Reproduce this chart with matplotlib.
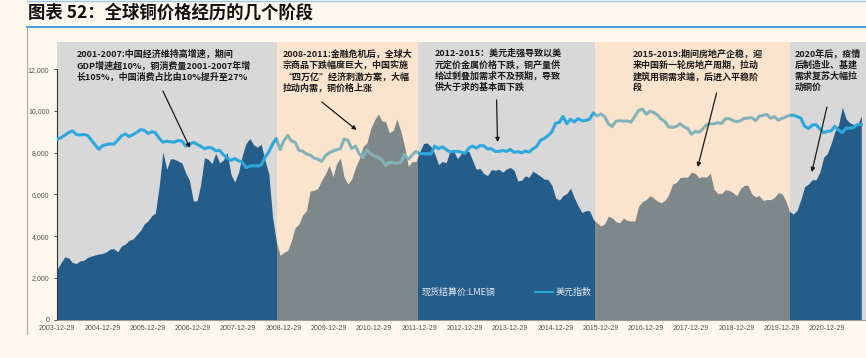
import pandas as pd
import matplotlib
matplotlib.use('Agg')
import matplotlib.pyplot as plt
import matplotlib.dates as mdates
from matplotlib.lines import Line2D
from matplotlib.patches import Patch

plt.rcParams['font.family'] = ['Noto Sans CJK SC', 'DejaVu Sans']

title = '图表 52：全球铜价格经历的几个阶段'

# LME copper cash settlement, monthly, USD/t (2004-01 .. 2021-10)
copper = [
    2423, 2737, 3003, 2949, 2732, 2688, 2810, 2841, 2981, 3042, 3099, 3141,
    3170, 3252, 3379, 3394, 3249, 3524, 3614, 3797, 3857, 4059, 4269, 4577,
    4734, 4982, 5103, 6387, 8046, 7197, 7712, 7694, 7601, 7500, 7029, 6675,
    5676, 5699, 6452, 7766, 7683, 7475, 7972, 7510, 7650, 8008, 6966, 6588,
    7061, 7888, 8439, 8685, 8383, 8260, 8414, 7634, 6990, 4926, 3717, 3072,
    3221, 3315, 3750, 4407, 4569, 5014, 5216, 6165, 6196, 6288, 6676, 6982,
    7386, 6848, 7463, 7745, 6838, 6499, 6735, 7284, 7709, 8292, 8470, 9147,
    9556, 9868, 9530, 9494, 8960, 9067, 9619, 9040, 8300, 7350, 7581, 7566,
    8040, 8441, 8470, 8289, 7955, 7423, 7584, 7515, 8088, 8062, 7711, 7966,
    8047, 8061, 7646, 7203, 7249, 7000, 6907, 7186, 7159, 7203, 7071, 7215,
    7291, 7149, 6650, 6674, 6891, 6821, 7113, 6998, 6872, 6737, 6713, 6446,
    5831, 5729, 5940, 6042, 6295, 5833, 5457, 5127, 5217, 5216, 4800, 4639,
    4472, 4599, 4954, 4873, 4695, 4642, 4864, 4751, 4722, 4731, 5450, 5660,
    5755, 5941, 5825, 5684, 5600, 5720, 5985, 6485, 6578, 6808, 6827, 6834,
    7066, 7007, 6800, 6851, 6825, 7018, 6250, 6040, 6050, 6220, 6195, 6087,
    5939, 6288, 6439, 6439, 6029, 5878, 5941, 5709, 5760, 5744, 5860, 6077,
    6031, 5687, 5183, 5058, 5239, 5755, 6372, 6497, 6705, 6703, 7064, 7772,
    7971, 8461, 9005, 9336, 10184, 9612, 9433, 9357, 9323, 9778,
]

# US dollar index, monthly
dxy = [
    86.5, 87.4, 88.6, 90.0, 90.9, 89.0, 88.7, 89.0, 88.5, 86.0, 83.5, 81.3,
    83.3, 83.7, 84.1, 84.0, 86.0, 88.3, 89.3, 87.9, 88.9, 90.0, 91.5, 91.2,
    89.5, 90.4, 89.9, 87.0, 85.0, 85.5, 85.2, 85.0, 85.9, 85.6, 83.0, 83.7,
    84.9, 83.9, 82.9, 81.6, 82.2, 82.0, 80.6, 80.7, 78.5, 76.8, 75.5, 76.5,
    75.3, 74.6, 71.8, 72.5, 72.8, 72.6, 73.1, 77.1, 80.0, 84.0, 86.9, 81.2,
    85.8, 88.5, 85.6, 85.0, 80.8, 80.3, 78.9, 78.3, 76.7, 76.2, 75.0, 77.9,
    79.5, 80.4, 81.1, 81.6, 86.6, 86.0, 81.7, 82.9, 78.9, 77.0, 81.0, 79.0,
    77.8, 77.0, 75.9, 73.0, 74.6, 74.3, 74.0, 74.5, 78.6, 76.1, 78.3, 80.2,
    79.0, 79.0, 79.0, 78.9, 83.0, 81.6, 82.6, 81.2, 79.9, 80.2, 80.2, 79.8,
    79.2, 82.0, 83.0, 81.9, 83.2, 83.1, 81.5, 81.6, 80.2, 80.2, 80.7, 80.2,
    81.2, 79.7, 80.1, 79.5, 80.4, 79.8, 81.5, 82.8, 86.0, 86.9, 88.4, 90.3,
    94.8, 95.3, 98.4, 94.6, 96.9, 95.5, 97.3, 96.1, 96.3, 96.9, 100.2, 98.6,
    99.6, 98.2, 94.6, 93.1, 95.9, 96.1, 95.9, 96.0, 95.4, 98.4, 101.5, 102.2,
    99.5, 101.1, 100.4, 99.1, 97.0, 95.6, 92.9, 92.7, 93.1, 94.6, 93.0, 92.1,
    89.1, 90.6, 90.1, 91.8, 94.0, 94.5, 94.5, 95.1, 94.8, 97.1, 97.3, 96.2,
    95.6, 96.2, 97.3, 97.5, 97.8, 96.1, 98.5, 98.9, 99.4, 97.4, 98.3, 96.4,
    97.4, 98.1, 99.0, 99.0, 98.3, 97.4, 93.3, 92.1, 93.9, 94.0, 91.9, 89.9,
    90.6, 90.9, 93.2, 91.3, 90.0, 92.4, 92.2, 92.6, 94.2, 94.1,
]

months = pd.date_range('2004-01-01', periods=len(copper), freq='MS')
tick_years = list(range(2003, 2021))
tick_labels = [f'{y}-12-29' for y in tick_years]
yticks = [0, 2000, 4000, 6000, 8000, 10000, 12000]

# phase boundaries and shading kind
phase_edges = ['2003-12-29', '2008-11-06', '2011-12-16', '2015-11-15', '2020-03-03', '2021-11-08']
phase_kind = ['gray', 'peach', 'gray', 'peach', 'gray']

# note text, text anchor (date, value), arrow tail, arrow head
notes = [
    ('2001-2007:中国经济维持高增速，期间\nGDP增速超10%，铜消费量2001-2007年增\n长105%，中国消费占比由10%提升至27%',
     ('2004-06-05', 12970), ('2006-05-01', 10960), ('2006-12-05', 8230)),
    ('2008-2011:金融危机后，全球大\n宗商品下跌幅度巨大，中国实施\n“四万亿”经济刺激方案，大幅\n拉动内需，铜价格上涨',
     ('2008-12-25', 12970), ('2009-11-03', 10430), ('2010-08-10', 9090)),
    ('2012-2015：美元走强导致以美\n元定价金属价格下跌，铜产量供\n给过剩叠加需求不及预期，导致\n供大于求的基本面下跌',
     ('2012-05-01', 12970), ('2013-09-12', 10530), ('2013-09-20', 8510)),
    ('2015-2019:期间房地产企稳，迎\n来中国新一轮房地产周期，拉动\n建筑用铜需求端，后进入平稳阶\n段',
     ('2016-09-12', 12970), ('2018-07-22', 10860), ('2018-02-20', 7310)),
    ('2020年后，疫情\n后制造业、基建\n需求复苏大幅拉\n动铜价',
     ('2020-04-12', 12970), ('2020-12-28', 10190), ('2020-08-28', 7070)),
]

BG = '#fdf8ee'
AREA = '#245c8a'
LINE = '#2ea7dc'
GRAY = '#d8d8d8'
PEACH = '#f7c28c'


def dnum(s):
    return mdates.date2num(pd.Timestamp(s))


W, H = 866, 358
fig = plt.figure(figsize=(W / 100, H / 100), dpi=100, facecolor=BG)
ax = fig.add_axes([57 / W, 38.5 / H, 809 / W, 277.5 / H])
ax.set_facecolor('white')

# gray phases sit under the copper area
for i, kind in enumerate(phase_kind):
    if kind == 'gray':
        ax.axvspan(dnum(phase_edges[i]), dnum(phase_edges[i + 1]), color=GRAY, lw=0, zorder=0)

ax.fill_between(mdates.date2num(months), copper, color=AREA, lw=0, zorder=2)
ax.set_ylim(0, 13310)
ax.set_xlim(dnum(phase_edges[0]), dnum(phase_edges[-1]))

ax.set_yticks(yticks)
ax.set_yticklabels([f'{v:,}' for v in yticks], fontsize=5, color='#555555',
                   fontfamily='Liberation Sans')
ax.set_xticks([dnum(s) for s in tick_labels])
ax.set_xticklabels(tick_labels, fontsize=5, color='#555555', fontfamily='Liberation Sans')
ax.tick_params(axis='x', length=0, pad=4)
ax.tick_params(axis='y', length=2.5, width=0.6, color='#333333', pad=3)
for s in ['top', 'right']:
    ax.spines[s].set_visible(False)
ax.spines['left'].set_bounds(0, 12000)
ax.spines['left'].set_color('#333333')
ax.spines['left'].set_linewidth(0.8)
ax.spines['bottom'].set_color('#8a8a8a')
ax.spines['bottom'].set_linewidth(0.6)

# dollar index on a hidden secondary scale
ax2 = ax.twinx()
ax2.plot(mdates.date2num(months), dxy, color=LINE, lw=2.2, zorder=2)
ax2.set_ylim(-7.06, 137.0)
ax2.set_yticks([])
for s in ax2.spines.values():
    s.set_visible(False)

# peach phases are washed over everything
for i, kind in enumerate(phase_kind):
    if kind == 'peach':
        ax2.axvspan(dnum(phase_edges[i]), dnum(phase_edges[i + 1]),
                    color=PEACH, alpha=0.43, lw=0, zorder=3)

for text, pos, tail, head in notes:
    ax2.text(dnum(pos[0]), pos[1], text, transform=ax.transData,
             fontsize=6.5, fontweight='bold', color='#1a1a1a', va='top', ha='left',
             linespacing=1.25, zorder=5)
    ax2.annotate('', xy=(dnum(head[0]), head[1]), xycoords=ax.transData,
                 xytext=(dnum(tail[0]), tail[1]), textcoords=ax.transData,
                 arrowprops=dict(arrowstyle='-|>', color='#1a1a1a', lw=0.9,
                                 mutation_scale=6, shrinkA=0, shrinkB=0),
                 zorder=5)

# the copper swatch blends into the area in the original, so keep it invisible
handles = [Patch(facecolor='none', edgecolor='none'), Line2D([], [], color=LINE, lw=1.5)]
ax2.legend(handles, ['现货结算价:LME铜', '美元指数'], ncol=2, frameon=False,
           fontsize=6.5, labelcolor='#e8eef4', loc='center left',
           bbox_to_anchor=(0.415, 0.099), columnspacing=4.4, handlelength=2.0,
           handletextpad=0.3)

fig.text(28 / W, 1 - 13 / H, title, fontsize=12.5, fontweight='bold', style='italic',
         va='center', ha='left', color='#111111')
fig.add_artist(Line2D([27 / W, 1], [1 - 1 / H] * 2, color='#9cc9ea', lw=1))
fig.add_artist(Line2D([27 / W, 1], [1 - 27 / H] * 2, color='#4a9fd8', lw=1.5))
fig.add_artist(Line2D([27 / W] * 2, [1 - 27 / H, 1 - 334 / H], color='#aaaaaa', lw=0.8))

fig.savefig('out.png', dpi=100, facecolor=BG)
